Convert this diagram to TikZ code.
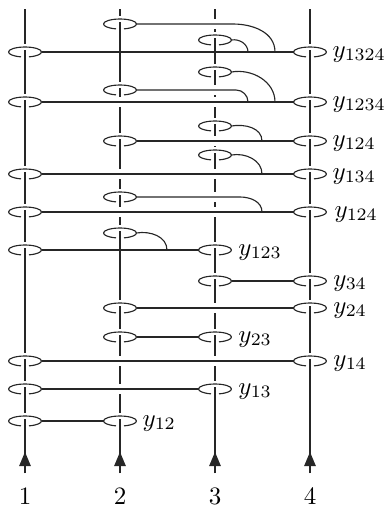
\documentclass[tikz,border=0pt]{standalone}
\usetikzlibrary{arrows.meta}
\begin{document}
\begin{tikzpicture}[x=0.4pt,y=0.4pt,
  lk/.style={line width=0.45pt, draw=black!85},
  erase/.style={draw=white, line width=3pt, line cap=butt},
  lbl/.style={anchor=base west, inner sep=0pt},
  num/.style={anchor=base, inner sep=0pt},
  tip/.style={lk, -{Triangle[length=5.6pt,width=4.6pt]}}]
\useasboundingbox (0,0) rectangle (387,-508);
% strand leaf: name, x, y (pixel, down)
\newcommand{\leaf}[3]{%
  \draw[erase] (#2,-#3+2.5) -- (#2,-#3+8.5);
  \draw[lk] (#2-16.5,-#3) arc[start angle=180,end angle=0,x radius=16.5,y radius=5];
  \draw[lk] (#2-16.5,-#3) arc[start angle=180,end angle=256,x radius=16.5,y radius=5];
  \draw[lk] (#2+16.5,-#3) arc[start angle=0,end angle=-76,x radius=16.5,y radius=5];
  \coordinate (#1l) at (#2-16.5,-#3);
  \coordinate (#1r) at (#2+16.5,-#3);
}
\newcommand{\gapat}[2]{\draw[erase] (#1,-#2+5) -- (#1,-#2-5);}
% strands
\foreach \n/\x in {1/25,2/120,3/215,4/310}{
  \coordinate (t\n) at (\x,-9);
  \coordinate (b\n) at (\x,-473);
  \coordinate (a\n) at (\x,-452);
  \draw[lk] (b\n) -- (t\n);
  \draw[tip] (b\n) -- (a\n);
}
% crossing gaps (edges over strands)
\foreach \y in {102,174,212,361,389}{\gapat{120}{\y}}
\foreach \y in {24,90,102,141,174,197,212,308,361}{\gapat{215}{\y}}
% leaves on strand 1
\foreach \y in {52,102,174,212,250,361,389,421}{\leaf{s1y\y}{25}{\y}}
% leaves on strand 2
\foreach \y in {24,90,141,197,233,308,337,421}{\leaf{s2y\y}{120}{\y}}
% leaves on strand 3
\foreach \y in {40,72,126,155,250,281,337,389}{\leaf{s3y\y}{215}{\y}}
% leaves on strand 4
\foreach \y in {52,102,141,174,212,281,308,361}{\leaf{s4y\y}{310}{\y}}
% junction and bend points
\coordinate (j1) at (275,-52);  \coordinate (k1) at (233,-24);
\coordinate (j2) at (248,-52);
\coordinate (j3) at (275,-102);
\coordinate (j4) at (248,-102); \coordinate (k4) at (236,-90);
\coordinate (j5) at (262,-141);
\coordinate (j6) at (262,-174);
\coordinate (j7) at (262,-212); \coordinate (k7) at (240,-197);
\coordinate (j8) at (167,-250);
% edges
\draw[lk] (s1y52r) -- (s4y52l);
\draw[lk] (s2y24r) -- (k1) to[out=0,in=90] (j1);
\draw[lk] (s3y40r) to[out=10,in=90] (j2);
\draw[lk] (s3y72r) to[out=10,in=90] (j3);
\draw[lk] (s2y90r) -- (k4) to[out=0,in=90] (j4);
\draw[lk] (s1y102r) -- (s4y102l);
\draw[lk] (s3y126r) to[out=10,in=90] (j5);
\draw[lk] (s2y141r) -- (s4y141l);
\draw[lk] (s3y155r) to[out=10,in=90] (j6);
\draw[lk] (s1y174r) -- (s4y174l);
\draw[lk] (s2y197r) -- (k7) to[out=0,in=90] (j7);
\draw[lk] (s1y212r) -- (s4y212l);
\draw[lk] (s2y233r) to[out=10,in=90] (j8);
\draw[lk] (s1y250r) -- (s3y250l);
\draw[lk] (s3y281r) -- (s4y281l);
\draw[lk] (s2y308r) -- (s4y308l);
\draw[lk] (s2y337r) -- (s3y337l);
\draw[lk] (s1y361r) -- (s4y361l);
\draw[lk] (s1y389r) -- (s3y389l);
\draw[lk] (s1y421r) -- (s2y421l);
% labels
\node[lbl] (l52) at (332,-57) {$y_{1324}$};
\node[lbl] (l102) at (332,-107) {$y_{1234}$};
\node[lbl] (l141) at (332,-146) {$y_{124}$};
\node[lbl] (l174) at (332,-179) {$y_{134}$};
\node[lbl] (l212) at (334,-217) {$y_{124}$};
\node[lbl] (l250) at (238,-255) {$y_{123}$};
\node[lbl] (l281) at (333,-286) {$y_{34}$};
\node[lbl] (l308) at (333,-313) {$y_{24}$};
\node[lbl] (l337) at (238,-342) {$y_{23}$};
\node[lbl] (l361) at (333,-366) {$y_{14}$};
\node[lbl] (l389) at (238,-394) {$y_{13}$};
\node[lbl] (l421) at (142,-426) {$y_{12}$};
\node[num] (n1) at (25,-504) {1};
\node[num] (n2) at (120,-504) {2};
\node[num] (n3) at (215,-504) {3};
\node[num] (n4) at (310,-504) {4};
\end{tikzpicture}
\end{document}
